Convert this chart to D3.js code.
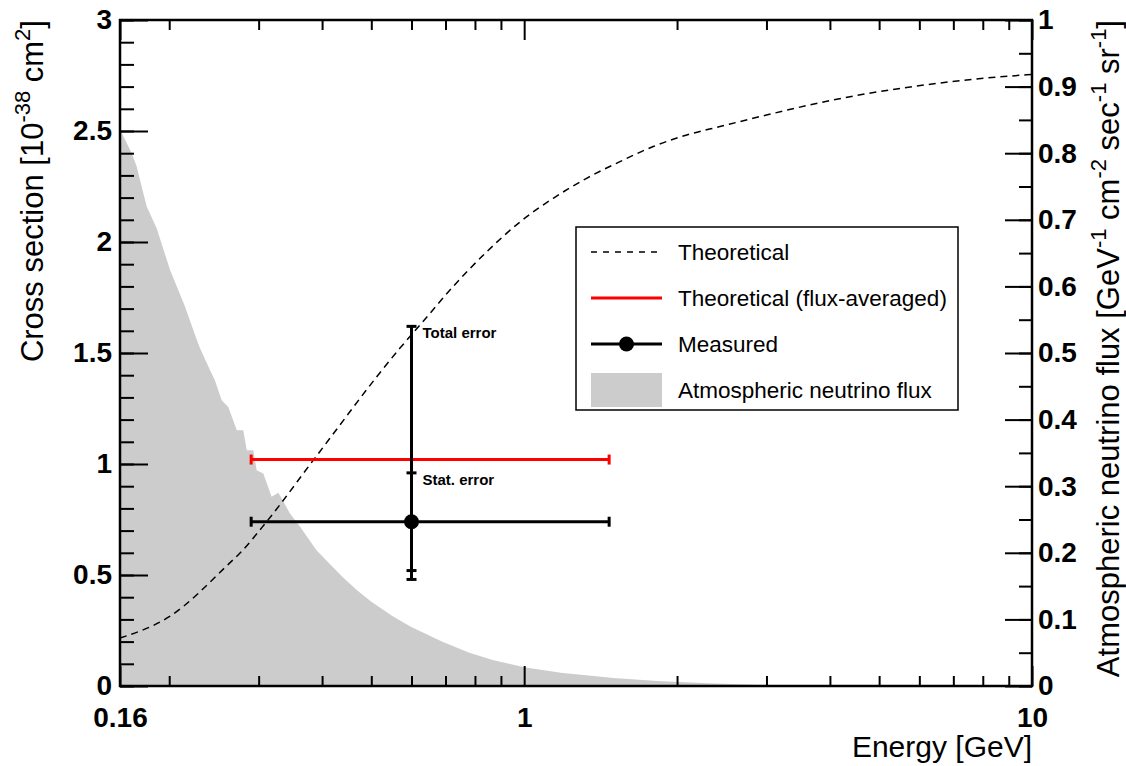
<!DOCTYPE html>
<html>
<head>
<meta charset="utf-8">
<script src="https://cdn.jsdelivr.net/npm/d3@7"></script>
<style>
  body { margin: 0; background: #fff; }
  text { font-family: "Liberation Sans", Arial, Helvetica, sans-serif; }
</style>
</head>
<body>
<svg id="chart" width="1126" height="766"></svg>
<script>
// theoretical cross section (left axis, 1e-38 cm2) vs energy [GeV]
var theoryE = [0.16, 0.20, 0.262, 0.276, 0.311, 0.387, 0.569, 0.628, 0.725, 0.843, 0.981,
               1.141, 1.327, 1.544, 1.795, 2.09, 2.43, 3.0, 4.06, 5.5, 7.44, 10];
var theoryXs = [0.216, 0.312, 0.55, 0.60, 0.74, 1.026, 1.521, 1.634, 1.80, 1.955, 2.09,
                2.197, 2.287, 2.362, 2.43, 2.482, 2.52, 2.572, 2.64, 2.692, 2.73, 2.755];

// atmospheric neutrino flux (right axis)
var fluxE = [0.16, 0.1687, 0.1726, 0.1765, 0.1806, 0.189, 0.2007, 0.2148, 0.2266, 0.23, 0.2407,
             0.246, 0.2537, 0.2614, 0.2717, 0.2798, 0.2843, 0.2928, 0.2973, 0.3064, 0.3182,
             0.328, 0.3355, 0.3458, 0.362, 0.39, 0.412, 0.44, 0.468, 0.4994, 0.55, 0.598,
             0.692, 0.78, 0.867, 1.0, 1.18, 1.5, 1.83, 2.3, 3.0, 4.0, 10];
var fluxV = [0.836, 0.80, 0.78, 0.75, 0.72, 0.687, 0.625, 0.57, 0.52, 0.507, 0.474,
             0.459, 0.429, 0.419, 0.384, 0.384, 0.354, 0.354, 0.324, 0.319, 0.284,
             0.29, 0.277, 0.259, 0.239, 0.204, 0.185, 0.163, 0.144, 0.127, 0.105, 0.089,
             0.066, 0.05, 0.039, 0.028, 0.02, 0.012, 0.0075, 0.004, 0.0015, 0.0004, 0];

// measurement
var measured = [0.6, 0.74];          // energy, cross section
var energyRange = [0.29, 1.47];
var statErr = [0.52, 0.96];
var totalErr = [0.48, 1.62];
var fluxAveraged = 1.02;

// ticks
var xMajor = [0.16, 1, 10];
var xMinor = [0.2, 0.3, 0.4, 0.5, 0.6, 0.7, 0.8, 0.9, 2, 3, 4, 5, 6, 7, 8, 9];
var yLeftMajor = [0, 0.5, 1, 1.5, 2, 2.5, 3];
var yLeftMinor = d3.range(0, 31).map(function(i) { return i / 10; });
var yRightMajor = [0, 0.1, 0.2, 0.3, 0.4, 0.5, 0.6, 0.7, 0.8, 0.9, 1];
var yRightMinor = d3.range(0, 21).map(function(i) { return i / 20; });

var legendLabels = ["Theoretical", "Theoretical (flux-averaged)", "Measured", "Atmospheric neutrino flux"];

var padL = 120, padR = 1032, padT = 20, padB = 686;
var svg = d3.select("#chart");

var x = d3.scaleLog().domain([0.16, 10]).range([padL, padR]);
var yL = d3.scaleLinear().domain([0, 3]).range([padB, padT]);
var yR = d3.scaleLinear().domain([0, 1]).range([padB, padT]);

// flux area
var fluxData = fluxE.map(function(e, i) { return [e, fluxV[i]]; });
svg.append("path")
    .datum(fluxData)
    .attr("fill", "#cccccc")
    .attr("d", d3.area()
        .x(function(d) { return x(d[0]); })
        .y0(yR(0))
        .y1(function(d) { return yR(d[1]); }));

// theoretical curve
var theoryData = theoryE.map(function(e, i) { return [e, theoryXs[i]]; });
svg.append("path")
    .datum(theoryData)
    .attr("fill", "none")
    .attr("stroke", "#000")
    .attr("stroke-width", 1.5)
    .attr("stroke-dasharray", "7,5")
    .attr("d", d3.line()
        .curve(d3.curveMonotoneX)
        .x(function(d) { return x(d[0]); })
        .y(function(d) { return yL(d[1]); }));

function hbar(g, y, color) {
    g.append("line")
        .attr("x1", x(energyRange[0])).attr("x2", x(energyRange[1]))
        .attr("y1", y).attr("y2", y)
        .attr("stroke", color).attr("stroke-width", 3);
    energyRange.forEach(function(e) {
        g.append("line")
            .attr("x1", x(e)).attr("x2", x(e))
            .attr("y1", y - 5).attr("y2", y + 5)
            .attr("stroke", color).attr("stroke-width", 3);
    });
}

// flux-averaged theory
hbar(svg.append("g"), yL(fluxAveraged), "#ff0000");

// measured point with errors
var mg = svg.append("g");
var mx = x(measured[0]);
mg.append("line")
    .attr("x1", mx).attr("x2", mx)
    .attr("y1", yL(totalErr[0])).attr("y2", yL(totalErr[1]))
    .attr("stroke", "#000").attr("stroke-width", 3);
statErr.concat(totalErr).forEach(function(v) {
    mg.append("line")
        .attr("x1", mx - 5).attr("x2", mx + 5)
        .attr("y1", yL(v)).attr("y2", yL(v))
        .attr("stroke", "#000").attr("stroke-width", 3);
});
hbar(mg, yL(measured[1]), "#000");
mg.append("circle")
    .attr("cx", mx).attr("cy", yL(measured[1]))
    .attr("r", 7.5).attr("fill", "#000");

mg.append("text")
    .attr("x", mx + 11).attr("y", yL(totalErr[1]) + 12)
    .attr("font-size", 15).attr("font-weight", "bold")
    .text("Total error");
mg.append("text")
    .attr("x", mx + 11).attr("y", yL(statErr[1]) + 12)
    .attr("font-size", 15).attr("font-weight", "bold")
    .text("Stat. error");

// axes
function styleAxis(g) {
    g.select(".domain").remove();
    g.selectAll(".tick line").attr("stroke", "#000").attr("stroke-width", 2);
    g.selectAll(".tick text")
        .attr("fill", "#000")
        .attr("font-size", 28)
        .attr("font-weight", "bold")
        .attr("font-family", "Liberation Sans, Arial, sans-serif");
}

svg.append("g").attr("transform", "translate(0," + padB + ")")
    .call(d3.axisBottom(x).tickValues(xMinor).tickSize(-10).tickFormat(""))
    .call(styleAxis);
svg.append("g").attr("transform", "translate(0," + padB + ")")
    .call(d3.axisBottom(x).tickValues(xMajor).tickSize(-20).tickPadding(21)
        .tickFormat(d3.format("~g")))
    .call(styleAxis);
svg.append("g").attr("transform", "translate(0," + padT + ")")
    .call(d3.axisTop(x).tickValues(xMinor).tickSize(-10).tickFormat(""))
    .call(styleAxis);
svg.append("g").attr("transform", "translate(0," + padT + ")")
    .call(d3.axisTop(x).tickValues(xMajor).tickSize(-20).tickFormat(""))
    .call(styleAxis);

svg.append("g").attr("transform", "translate(" + padL + ",0)")
    .call(d3.axisLeft(yL).tickValues(yLeftMinor).tickSize(-14).tickFormat(""))
    .call(styleAxis);
svg.append("g").attr("transform", "translate(" + padL + ",0)")
    .call(d3.axisLeft(yL).tickValues(yLeftMajor).tickSize(-28).tickPadding(8)
        .tickFormat(d3.format("~g")))
    .call(styleAxis);

svg.append("g").attr("transform", "translate(" + padR + ",0)")
    .call(d3.axisRight(yR).tickValues(yRightMinor).tickSize(-13).tickFormat(""))
    .call(styleAxis);
svg.append("g").attr("transform", "translate(" + padR + ",0)")
    .call(d3.axisRight(yR).tickValues(yRightMajor).tickSize(-27).tickPadding(6)
        .tickFormat(d3.format("~g")))
    .call(styleAxis);

// frame
svg.append("rect")
    .attr("x", padL).attr("y", padT)
    .attr("width", padR - padL).attr("height", padB - padT)
    .attr("fill", "none").attr("stroke", "#000").attr("stroke-width", 2.5);

// axis titles
svg.append("text")
    .attr("x", padR).attr("y", 757)
    .attr("text-anchor", "end")
    .attr("font-size", 30)
    .text("Energy [GeV]");

function sup(t, s) {
    t.append("tspan").attr("dy", -13).attr("font-size", 22).text(s);
    return t;
}

var lt = svg.append("text")
    .attr("transform", "translate(43," + padT + ") rotate(-90)")
    .attr("text-anchor", "end")
    .attr("font-size", 31);
lt.append("tspan").text("Cross section [10");
sup(lt, "-38");
lt.append("tspan").attr("dy", 13).text(" cm");
sup(lt, "2");
lt.append("tspan").attr("dy", 13).text("]");

var rt = svg.append("text")
    .attr("transform", "translate(1119," + padT + ") rotate(-90)")
    .attr("text-anchor", "end")
    .attr("font-size", 31);
rt.append("tspan").text("Atmospheric neutrino flux [GeV");
sup(rt, "-1");
rt.append("tspan").attr("dy", 13).text(" cm");
sup(rt, "-2");
rt.append("tspan").attr("dy", 13).text(" sec");
sup(rt, "-1");
rt.append("tspan").attr("dy", 13).text(" sr");
sup(rt, "-1");
rt.append("tspan").attr("dy", 13).text("]");

// legend
var lg = svg.append("g");
lg.append("rect")
    .attr("x", 576).attr("y", 227).attr("width", 382).attr("height", 183)
    .attr("fill", "#fff").attr("stroke", "#000").attr("stroke-width", 1.5);
var rowY = [252, 298, 344, 390];
lg.append("line").attr("x1", 591).attr("x2", 662).attr("y1", rowY[0]).attr("y2", rowY[0])
    .attr("stroke", "#000").attr("stroke-width", 1.5).attr("stroke-dasharray", "6,6");
lg.append("line").attr("x1", 591).attr("x2", 662).attr("y1", rowY[1]).attr("y2", rowY[1])
    .attr("stroke", "#ff0000").attr("stroke-width", 3);
lg.append("line").attr("x1", 591).attr("x2", 662).attr("y1", rowY[2]).attr("y2", rowY[2])
    .attr("stroke", "#000").attr("stroke-width", 3);
lg.append("circle").attr("cx", 626.5).attr("cy", rowY[2]).attr("r", 7.5).attr("fill", "#000");
lg.append("rect").attr("x", 591).attr("y", rowY[3] - 17).attr("width", 71).attr("height", 34)
    .attr("fill", "#cccccc");
lg.selectAll("text.leg")
    .data(legendLabels)
    .enter().append("text")
    .attr("class", "leg")
    .attr("x", 678)
    .attr("y", function(d, i) { return rowY[i]; })
    .attr("dy", "0.35em")
    .attr("font-size", 22.5)
    .text(function(d) { return d; });
</script>
</body>
</html>
